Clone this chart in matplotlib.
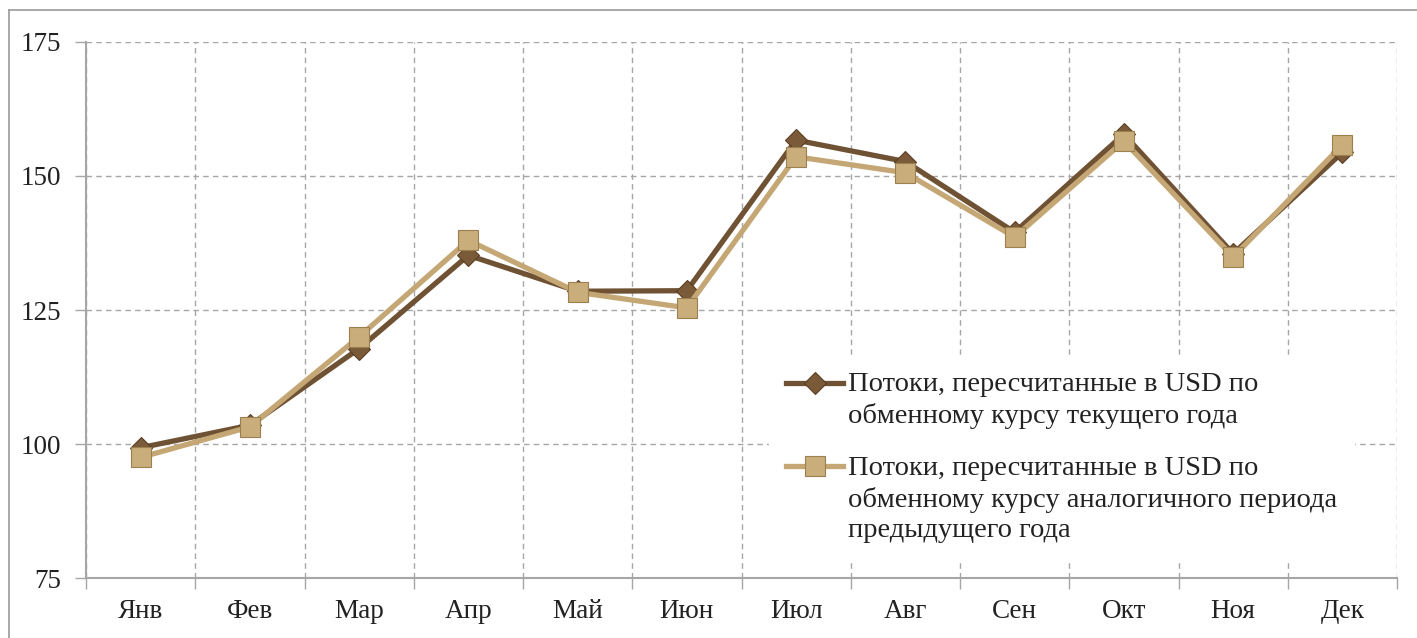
import matplotlib
matplotlib.use('Agg')
import matplotlib.pyplot as plt
from matplotlib.lines import Line2D

plt.rcParams['font.family'] = ['Liberation Serif', 'DejaVu Serif']

months = ['Янв', 'Фев', 'Мар', 'Апр', 'Май', 'Июн', 'Июл', 'Авг', 'Сен', 'Окт', 'Ноя', 'Дек']
currentRate = [99.3, 103.5, 117.8, 135.2, 128.5, 128.6, 156.7, 152.7, 139.5, 157.8, 135.5, 154.4]
previousRate = [97.5, 103.2, 120.0, 138.0, 128.3, 125.4, 153.6, 150.6, 138.6, 156.5, 134.9, 155.8]
labelCurrent = 'Потоки, пересчитанные в USD по\nобменному курсу текущего года'
labelPrevious = 'Потоки, пересчитанные в USD по\nобменному курсу аналогичного периода\nпредыдущего года'

darkColor = '#6f5133'
lightColor = '#c4a774'
gridColor = '#a6a6a6'
textColor = '#222222'
legendSize = 20.5
lineSpacing = 1.26

fig = plt.figure(figsize=(14.17, 6.38), dpi=100)
ax = fig.add_axes([86 / 1417, 1 - 578 / 638, 1311 / 1417, 536 / 638])

x = list(range(len(months)))
ax.plot(x, currentRate, color=darkColor, linewidth=3.8, marker='D', markersize=11,
        markerfacecolor='#7a5a38', markeredgecolor='#5a3f24', markeredgewidth=0.8,
        label=labelCurrent, zorder=3)
ax.plot(x, previousRate, color=lightColor, linewidth=3.8, marker='s', markersize=14,
        markerfacecolor='#c9ad7a', markeredgecolor='#9c7f4f', markeredgewidth=0.8,
        label=labelPrevious, zorder=4)

ax.set_xlim(-0.5, len(months) - 0.5)
ax.set_ylim(75, 175)
ax.set_yticks([75, 100, 125, 150, 175])
ax.set_xticks(x)
ax.set_xticklabels(months)
ax.set_xticks([i - 0.5 for i in range(len(months) + 1)], minor=True)

ax.grid(True, which='major', axis='y', color=gridColor, linestyle=(0, (4, 3)), linewidth=1)
ax.grid(True, which='minor', axis='x', color=gridColor, linestyle=(0, (4, 3)), linewidth=1)
ax.tick_params(axis='x', which='major', length=0, pad=15, labelsize=19.5, colors=textColor)
ax.tick_params(axis='x', which='minor', length=8, color=gridColor, width=1)
ax.tick_params(axis='y', length=8, color=gridColor, width=1, pad=10, labelsize=19.5,
               labelcolor=textColor)

for side in ['top', 'right']:
    ax.spines[side].set_visible(False)
for side in ['left', 'bottom']:
    ax.spines[side].set_color(gridColor)
    ax.spines[side].set_linewidth(1.5)

leg = ax.legend(loc='upper left', bbox_to_anchor=(755 / 1417, 1 - 341 / 638),
                bbox_transform=fig.transFigure, frameon=True,
                fontsize=legendSize, handlelength=2.0, handletextpad=0.15,
                labelspacing=0.98, borderpad=0.6, fancybox=False)
leg.get_frame().set_facecolor('white')
leg.get_frame().set_edgecolor('white')
leg.get_frame().set_alpha(1)
for t in leg.get_texts():
    t.set_color(textColor)
    t.set_linespacing(lineSpacing)

# put each legend handle on the first line of its label
pitch = 0.92 * legendSize * lineSpacing
for handle, text in zip(leg.legend_handles, leg.get_texts()):
    nLines = text.get_text().count('\n') + 1
    shift = (nLines - 1) / 2 * pitch
    handle.set_ydata([y + shift for y in handle.get_ydata()])

# outer border (top and left visible)
fig.add_artist(Line2D([9 / 1417, 1], [1 - 10 / 638, 1 - 10 / 638], color='#9a9a9a', linewidth=1.2,
                      transform=fig.transFigure))
fig.add_artist(Line2D([9 / 1417, 9 / 1417], [0, 1 - 10 / 638], color='#9a9a9a', linewidth=1.2,
                      transform=fig.transFigure))

fig.savefig('out.png', dpi=100)
